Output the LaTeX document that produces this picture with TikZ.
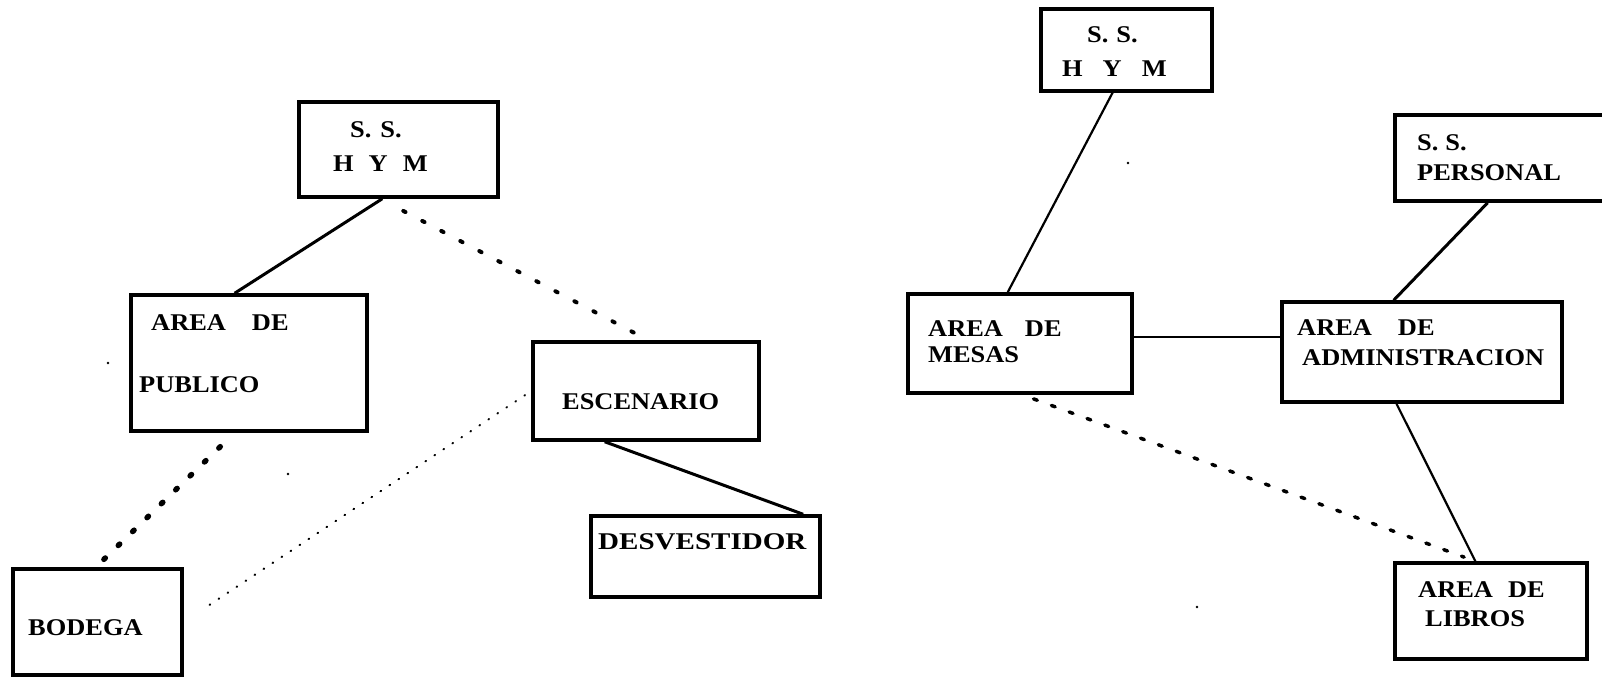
\documentclass[tikz,border=0pt]{standalone}
\usepackage{fontspec}
\usepackage{graphicx}
\setmainfont{Liberation Serif}[FakeStretch=1.1]
\usetikzlibrary{calc}
\begin{document}
\begin{tikzpicture}[x=1pt,y=-1pt,
  box/.style={draw, line width=3.5pt, inner sep=0pt},
  lbl/.style={anchor=base west, inner sep=0pt, font=\fontsize{24}{28}\selectfont\bfseries},
  solidlink/.style={line width=3pt},
  thinlink/.style={line width=2.2pt},
  dotlinkA/.style={line width=4pt, line cap=round, dash pattern=on 2.5pt off 19pt},
  dotlinkB/.style={line width=5.5pt, line cap=round, dash pattern=on 2pt off 18pt},
  dotlinkC/.style={line width=2pt, line cap=round, dash pattern=on 0.8pt off 10pt},
  dashlink/.style={line width=3.5pt, line cap=round, dash pattern=on 4pt off 15pt},
  speck/.style={fill=black}]
\useasboundingbox (0,0) rectangle (1602,677);
\fill[white] (0,0) rectangle (1602,677);

% boxes
\node[box, minimum width=199pt, minimum height=95pt] (ss1) at (398.5,149.5) {};
\node[box, minimum width=236pt, minimum height=136pt] (pub) at (249,363) {};
\node[box, minimum width=226pt, minimum height=98pt] (esc) at (646,391) {};
\node[box, minimum width=229pt, minimum height=81pt] (des) at (705.5,556.5) {};
\node[box, minimum width=169pt, minimum height=106pt] (bod) at (97.5,622) {};
\node[box, minimum width=171pt, minimum height=82pt] (ss2) at (1126.5,50) {};
\node[box, minimum width=225pt, minimum height=86pt] (per) at (1507.5,158) {};
\node[box, minimum width=224pt, minimum height=99pt] (mes) at (1020,343.5) {};
\node[box, minimum width=280pt, minimum height=100pt] (adm) at (1422,352) {};
\node[box, minimum width=192pt, minimum height=96pt] (lib) at (1491,611) {};

% texts
\node[lbl] (t1a) at (350,137) {S.\hspace{9pt}S.};
\node[lbl] (t1b) at (333,171) {H\hspace{15pt}Y\hspace{15pt}M};
\node[lbl] (t2a) at (151,330) {AREA\hspace{26pt}DE};
\node[lbl] (t2b) at (139,392) {PUBLICO};
\node[lbl] (t3) at (562,409) {ESCENARIO};
\node[lbl] (t4) at (598,549) {\scalebox{1.1}[1]{DESVESTIDOR}};
\node[lbl] (t5) at (28,635) {BODEGA};
\node[lbl] (t6a) at (1087,43) {S.\hspace{8pt}S.};
\node[lbl] (t6b) at (1062,76) {H\hspace{20pt}Y\hspace{20pt}M};
\node[lbl] (t7a) at (1417,150) {S.\hspace{7pt}S.};
\node[lbl] (t7b) at (1417,180) {PERSONAL};
\node[lbl] (t8a) at (928,336) {AREA\hspace{22pt}DE};
\node[lbl] (t8b) at (928,362) {MESAS};
\node[lbl] (t9a) at (1297,335) {AREA\hspace{26pt}DE};
\node[lbl] (t9b) at (1302,365) {ADMINISTRACION};
\node[lbl] (t10a) at (1418,597) {AREA\hspace{15pt}DE};
\node[lbl] (t10b) at (1425,626) {LIBROS};

% connectors, left group
\draw[solidlink] ($(ss1.south west)!0.42!(ss1.south east)$) -- ($(pub.north west)!0.44!(pub.north east)$);
\draw[dotlinkA, shorten <=26pt, shorten >=8pt] ($(ss1.south west)!0.41!(ss1.south east)$) -- ($(esc.north west)!0.51!(esc.north east)$);
\draw[dotlinkB, shorten <=20pt, shorten >=3pt] ($(pub.south west)!0.44!(pub.south east)$) -- ($(bod.north west)!0.49!(bod.north east)$);
\draw[dotlinkC, shorten <=31pt] (bod.east) -- (esc.west);
\draw[solidlink] ($(esc.south west)!0.32!(esc.south east)$) -- ($(des.north west)!0.92!(des.north east)$);

% connectors, right group
\draw[thinlink] ($(ss2.south west)!0.42!(ss2.south east)$) -- ($(mes.north west)!0.446!(mes.north east)$);
\path ($(mes.north east)!0.44!(mes.south east)$) coordinate (mr);
\draw[line width=2pt] (mr) -- (mr -| adm.west);
\draw[solidlink] ($(per.south west)!0.413!(per.south east)$) -- ($(adm.north west)!0.40!(adm.north east)$);
\draw[thinlink] ($(adm.south west)!0.41!(adm.south east)$) -- ($(lib.north west)!0.42!(lib.north east)$);
\draw[dashlink, shorten <=12pt, shorten >=12pt] ($(mes.south west)!0.51!(mes.south east)$) -- ($(lib.north west)!0.42!(lib.north east)$);

% specks
\fill[speck] (108,363) circle (1.3pt);
\fill[speck] (288,474) circle (1.3pt);
\fill[speck] (1128,163) circle (1.3pt);
\fill[speck] (1197,607) circle (1.3pt);
\end{tikzpicture}
\end{document}
